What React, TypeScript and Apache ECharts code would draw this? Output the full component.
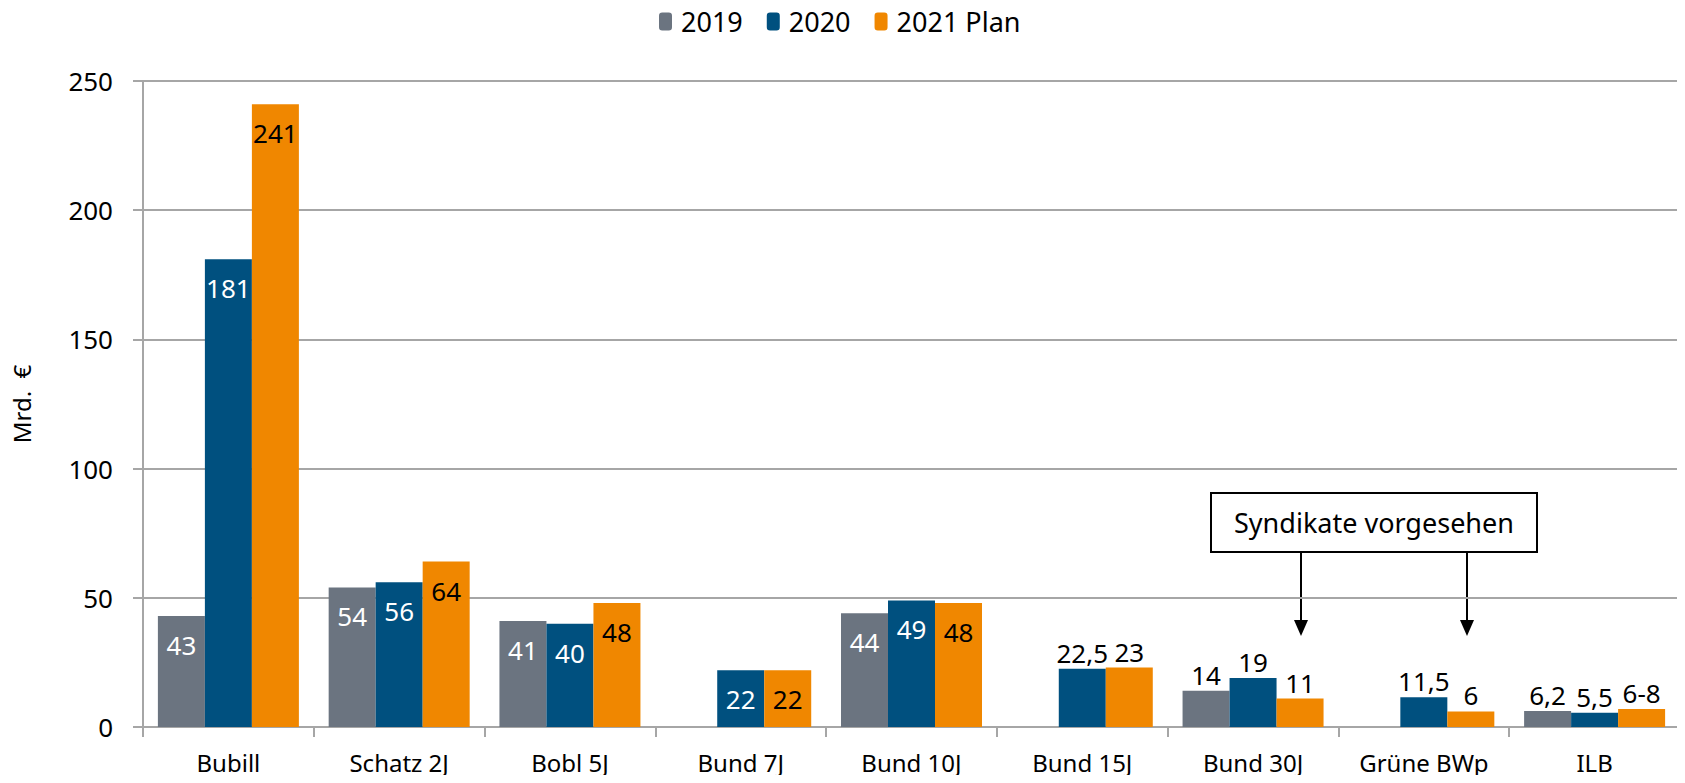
import React, { useEffect, useRef } from "react";
import * as echarts from "echarts";

const categories = ["Bubill", "Schatz 2J", "Bobl 5J", "Bund 7J", "Bund 10J", "Bund 15J", "Bund 30J", "Grüne BWp", "ILB"];
const seriesNames = ["2019", "2020", "2021 Plan"];
const v2019 = [43, 54, 41, null, 44, null, 14, null, 6.2];
const v2020 = [181, 56, 40, 22, 49, 22.5, 19, 11.5, 5.5];
const v2021 = [241, 64, 48, 22, 48, 23, 11, 6, 7];
const text2021 = ["241", "64", "48", "22", "48", "23", "11", "6", "6-8"];
const pos2019 = ["in", "in", "in", "", "in", "", "top", "", "top"];
const pos2020 = ["in", "in", "in", "in", "in", "top", "top", "top", "top"];
const pos2021 = ["in", "in", "in", "in", "in", "top", "top", "top", "top"];
const yTicks = { min: 0, max: 250, interval: 50 };
const axisName = "Mrd.  €";
const noteText = "Syndikate vorgesehen";

const COLORS = ["#6b7480", "#00507f", "#f08700"];
const FONT = "Noto Sans";
const FS = 26;

function fmt(v: number) {
  return String(v).replace(".", ",");
}

function buildData(values: (number | null)[], pos: string[], insideColor: string, texts?: string[]) {
  return values.map((v, i) => {
    if (v === null) return { value: null };
    const txt = texts ? texts[i] : fmt(v);
    const inside = pos[i] === "in";
    return {
      value: v,
      label: {
        show: true,
        position: inside ? "insideTop" : "top",
        distance: inside ? 16 : 3,
        color: inside ? insideColor : "#000",
        fontFamily: FONT,
        fontSize: FS,
        formatter: () => txt,
      },
    };
  });
}

export default function App() {
  const ref = useRef<HTMLDivElement>(null);
  useEffect(() => {
    if (!ref.current) return;
    const chart = echarts.init(ref.current, null, { renderer: "svg" });
    const arrowXs = [1301, 1467];
    const arrows: any[] = [];
    arrowXs.forEach((x) => {
      arrows.push({
        type: "line",
        shape: { x1: x, y1: 552, x2: x, y2: 622 },
        style: { stroke: "#000", lineWidth: 2 },
      });
      arrows.push({
        type: "polygon",
        shape: { points: [[x - 7, 620], [x + 7, 620], [x, 636]] },
        style: { fill: "#000" },
      });
    });
    chart.setOption({
      animation: false,
      textStyle: { fontFamily: FONT },
      legend: {
        top: 3,
        left: 654,
        itemWidth: 13,
        itemHeight: 18,
        itemGap: 24,
        textStyle: { fontFamily: FONT, fontSize: 27, color: "#000", padding: [0, 0, 0, 4] },
        data: seriesNames,
      },
      grid: { left: 143, right: 5, top: 81, bottom: 56, containLabel: false },
      xAxis: {
        type: "category",
        data: categories,
        axisLine: { lineStyle: { color: "#a6a6a6", width: 2 } },
        axisTick: { show: true, length: 10, lineStyle: { color: "#a6a6a6", width: 2 } },
        axisLabel: { fontFamily: FONT, fontSize: 24, color: "#000", margin: 23 },
      },
      yAxis: {
        type: "value",
        min: yTicks.min,
        max: yTicks.max,
        interval: yTicks.interval,
        name: axisName,
        nameLocation: "middle",
        nameRotate: 90,
        nameGap: 110,
        nameTextStyle: { fontFamily: FONT, fontSize: 24, color: "#000" },
        axisLine: { show: true, lineStyle: { color: "#a6a6a6", width: 2 } },
        axisTick: { show: true, length: 10, lineStyle: { color: "#a6a6a6", width: 2 } },
        splitLine: { lineStyle: { color: "#a6a6a6", width: 2 } },
        axisLabel: { fontFamily: FONT, fontSize: FS, color: "#000", margin: 30 },
      },
      series: [
        { name: seriesNames[0], type: "bar", barWidth: 47, barGap: "0%", itemStyle: { color: COLORS[0] }, data: buildData(v2019, pos2019, "#fff") },
        { name: seriesNames[1], type: "bar", barWidth: 47, barGap: "0%", itemStyle: { color: COLORS[1] }, data: buildData(v2020, pos2020, "#fff") },
        { name: seriesNames[2], type: "bar", barWidth: 47, barGap: "0%", itemStyle: { color: COLORS[2] }, data: buildData(v2021, pos2021, "#000", text2021) },
      ],
      graphic: [
        {
          type: "rect",
          shape: { x: 1211, y: 493, width: 326, height: 59 },
          style: { fill: "#fff", stroke: "#000", lineWidth: 2 },
        },
        {
          type: "text",
          x: 1374,
          y: 522,
          style: { text: noteText, fontFamily: FONT, fontSize: 27, fill: "#000", align: "center", verticalAlign: "middle" },
        },
        ...arrows,
      ],
    });
    return () => chart.dispose();
  }, []);
  return <div ref={ref} style={{ width: 1685, height: 783, margin: -8 }} />;
}
